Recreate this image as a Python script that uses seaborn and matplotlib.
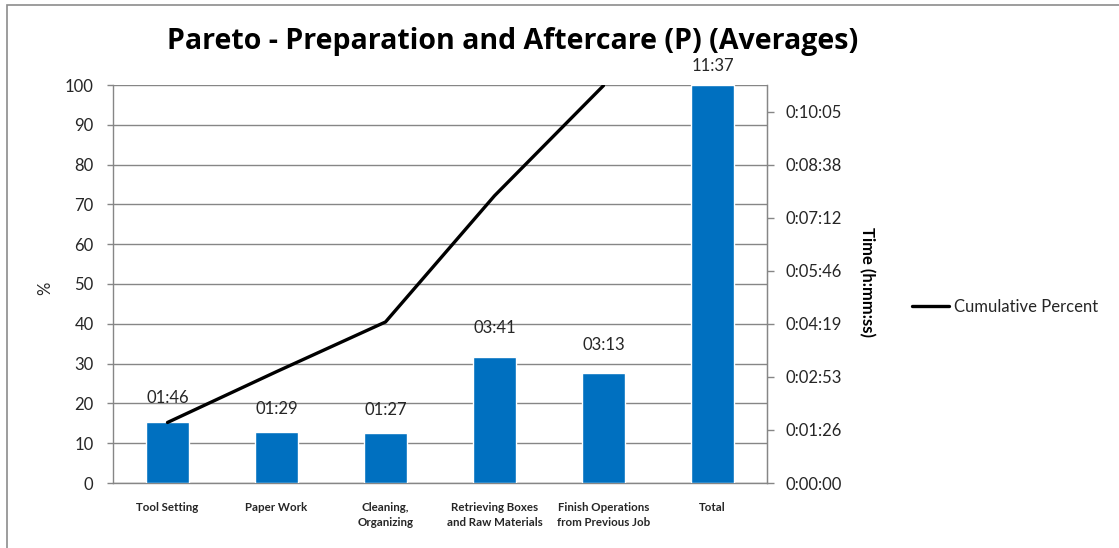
import numpy as np
import pandas as pd
import matplotlib
matplotlib.use("Agg")
import matplotlib.pyplot as plt
from matplotlib.patches import Rectangle
from matplotlib.ticker import FixedLocator
import seaborn as sns

# ---- data -------------------------------------------------------------
categories = [
    "Tool Setting",
    "Paper Work",
    "Cleaning,\nOrganizing",
    "Retrieving Boxes\nand Raw Materials",
    "Finish Operations\nfrom Previous Job",
    "Total",
]
avg_time = ["01:46", "01:29", "01:27", "03:41", "03:13", "11:37"]   # mm:ss

# secondary (time) axis: 0 .. 0.0075 day, major step 0.001 day
time_axis_max_s = 648.0
time_step_s = 86.4
pct_ticks = list(range(0, 101, 10))

# ---- derived values ---------------------------------------------------
secs = np.array([int(t.split(":")[0]) * 60 + int(t.split(":")[1]) for t in avg_time], float)
total = secs[-1]
pct = secs / total * 100.0
cum_pct = np.cumsum(secs[:-1]) / total * 100.0

df = pd.DataFrame({"category": categories, "pct": pct})


def hms(s):
    s = int(round(s))
    return f"{s // 3600}:{(s % 3600) // 60:02d}:{s % 60:02d}"


# ---- style ------------------------------------------------------------
sns.set_style("white")
plt.rcParams["font.family"] = ["Lato", "DejaVu Sans"]
TXT = "#262626"
GRID = "#868686"
BLUE = "#0070C0"

W, H = 1119, 548
fig = plt.figure(figsize=(W / 100, H / 100), dpi=100)


def fx(px):
    return px / W


def fy(py):
    return 1 - py / H


ax = fig.add_axes([fx(113), fy(483), fx(767) - fx(113), fy(85) - fy(483)])

sns.barplot(data=df, x="category", y="pct", color=BLUE, width=0.39,
            saturation=1, ax=ax, zorder=3)
sns.lineplot(x=np.arange(len(cum_pct)), y=cum_pct, color="black", linewidth=2.4,
             ax=ax, zorder=4, label="Cumulative Percent", legend=False)

ax.set_xlim(-0.5, len(categories) - 0.5)
ax.set_ylim(0, 100)
ax.set_yticks(pct_ticks)
ax.yaxis.grid(True, color=GRID, linewidth=1.0, zorder=0)
ax.set_axisbelow(True)
ax.set_xlabel("")
ax.set_ylabel("%", fontsize=12, color=TXT)
ax.yaxis.set_label_coords(fx(53 - 113) / (fx(767) - fx(113)), 0.49)

ax.tick_params(axis="y", direction="out", length=4, width=1, color=GRID,
               labelsize=12, labelcolor=TXT, pad=10)
ax.tick_params(axis="x", which="major", length=0, pad=14)
ax.xaxis.set_minor_locator(FixedLocator(np.arange(-0.5, len(categories), 1.0)))
ax.tick_params(axis="x", which="minor", direction="out", length=4, width=1, color=GRID)
for lbl in ax.get_xticklabels():
    lbl.set_fontsize(8.3)
    lbl.set_fontweight("bold")
    lbl.set_color(TXT)
    lbl.set_linespacing(1.45)
    lbl.set_va("top")

for side in ("left", "bottom", "right"):
    ax.spines[side].set_color(GRID)
    ax.spines[side].set_linewidth(1.0)
ax.spines["top"].set_visible(False)

# ---- time axis --------------------------------------------------------
ax2 = ax.twinx()
ax2.set_ylim(0, time_axis_max_s)
tt = np.arange(0, time_axis_max_s, time_step_s)
ax2.set_yticks(tt)
ax2.set_yticklabels([hms(t) for t in tt])
ax2.tick_params(axis="y", direction="out", length=5, width=1, color=GRID,
                labelsize=12, labelcolor=TXT, pad=8)
for side in ("left", "bottom", "top"):
    ax2.spines[side].set_visible(False)
ax2.spines["right"].set_color(GRID)
ax2.grid(False)

# bar value labels sit on the time scale, held inside the plot top
for i, s in enumerate(secs):
    m, sec = divmod(int(s), 60)
    ax2.annotate(f"{m:02d}:{sec:02d}", xy=(i, min(s, time_axis_max_s)),
                 xytext=(0, 14), textcoords="offset points",
                 ha="center", va="center", fontsize=12, color=TXT,
                 annotation_clip=False)

fig.text(fx(867), fy(282), "Time (h:mm:ss)", rotation=-90, ha="center",
         va="center", fontsize=12, fontweight="bold", color="black")

# ---- title, legend, frame ---------------------------------------------
fig.text(fx(513), fy(42), "Pareto - Preparation and Aftercare (P) (Averages)",
         ha="center", va="center", fontsize=20.5, fontweight="bold", color="black",
         family=["Open Sans", "DejaVu Sans"])

handles, labels = ax.get_legend_handles_labels()
fig.legend(handles, labels, loc="center left",
           bbox_to_anchor=(fx(897), fy(307)), frameon=False,
           handlelength=2.2, handletextpad=0.3, fontsize=12,
           labelcolor=TXT)

fig.add_artist(Rectangle((fx(7), -0.1), 1.2, fy(5) + 0.1, transform=fig.transFigure,
                         fill=False, edgecolor="#8c8c8c", linewidth=1.2))

fig.savefig("out.png", dpi=100, facecolor="white")
